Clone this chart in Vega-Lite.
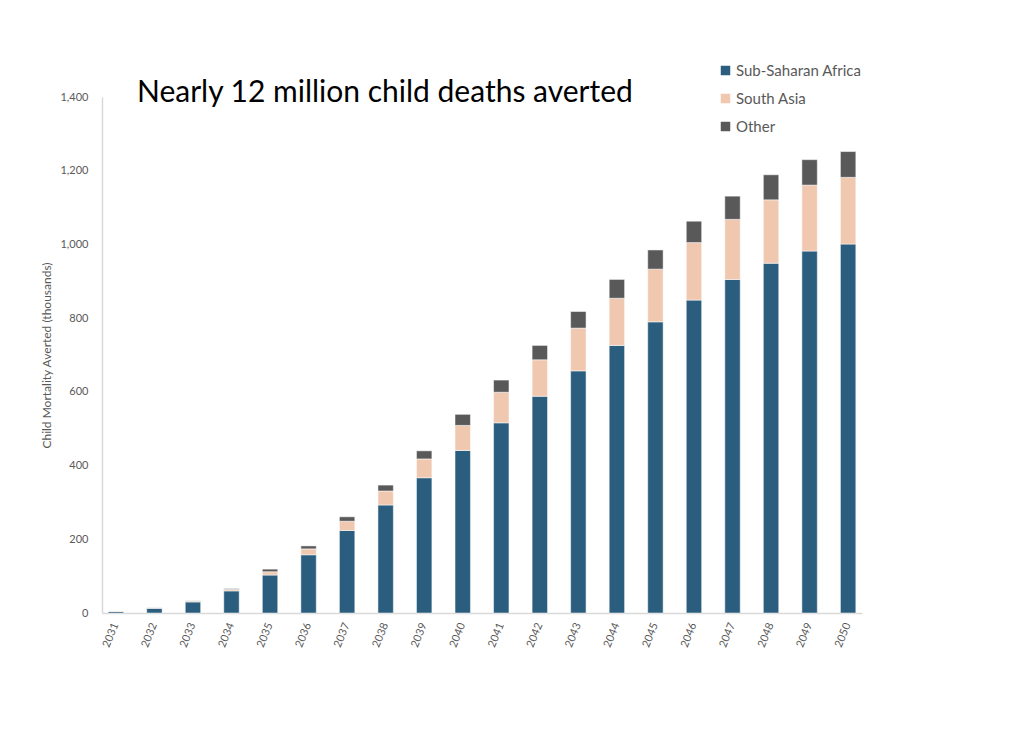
{
  "$schema": "https://vega.github.io/schema/vega-lite/v6.json",
  "autosize": {"type": "none"},
  "width": 760,
  "height": 516,
  "padding": {"left": 102, "top": 97, "right": 162, "bottom": 116},
  "background": "white",
  "config": {
    "view": {"stroke": null},
    "font": "Lato"
  },
  "title": {
    "text": "Nearly 12 million child deaths averted",
    "anchor": "start",
    "frame": "group",
    "orient": "top",
    "dx": 35,
    "dy": 67,
    "offset": -2,
    "baseline": "alphabetic",
    "fontSize": 30,
    "fontWeight": "normal",
    "color": "#000000",
    "font": "Lato"
  },
  "data": {
    "values": [
      {"year": "2031", "region": "Sub-Saharan Africa", "value": 4},
      {"year": "2031", "region": "South Asia", "value": 0.6},
      {"year": "2031", "region": "Other", "value": 0.4},
      {"year": "2032", "region": "Sub-Saharan Africa", "value": 13},
      {"year": "2032", "region": "South Asia", "value": 1},
      {"year": "2032", "region": "Other", "value": 0.5},
      {"year": "2033", "region": "Sub-Saharan Africa", "value": 30},
      {"year": "2033", "region": "South Asia", "value": 2},
      {"year": "2033", "region": "Other", "value": 1},
      {"year": "2034", "region": "Sub-Saharan Africa", "value": 60},
      {"year": "2034", "region": "South Asia", "value": 4},
      {"year": "2034", "region": "Other", "value": 2},
      {"year": "2035", "region": "Sub-Saharan Africa", "value": 103},
      {"year": "2035", "region": "South Asia", "value": 9},
      {"year": "2035", "region": "Other", "value": 7},
      {"year": "2036", "region": "Sub-Saharan Africa", "value": 158},
      {"year": "2036", "region": "South Asia", "value": 16},
      {"year": "2036", "region": "Other", "value": 8},
      {"year": "2037", "region": "Sub-Saharan Africa", "value": 224},
      {"year": "2037", "region": "South Asia", "value": 25},
      {"year": "2037", "region": "Other", "value": 12},
      {"year": "2038", "region": "Sub-Saharan Africa", "value": 293},
      {"year": "2038", "region": "South Asia", "value": 38},
      {"year": "2038", "region": "Other", "value": 16},
      {"year": "2039", "region": "Sub-Saharan Africa", "value": 367},
      {"year": "2039", "region": "South Asia", "value": 51},
      {"year": "2039", "region": "Other", "value": 22},
      {"year": "2040", "region": "Sub-Saharan Africa", "value": 441},
      {"year": "2040", "region": "South Asia", "value": 68},
      {"year": "2040", "region": "Other", "value": 30},
      {"year": "2041", "region": "Sub-Saharan Africa", "value": 516},
      {"year": "2041", "region": "South Asia", "value": 83},
      {"year": "2041", "region": "Other", "value": 33},
      {"year": "2042", "region": "Sub-Saharan Africa", "value": 588},
      {"year": "2042", "region": "South Asia", "value": 99},
      {"year": "2042", "region": "Other", "value": 39},
      {"year": "2043", "region": "Sub-Saharan Africa", "value": 657},
      {"year": "2043", "region": "South Asia", "value": 116},
      {"year": "2043", "region": "Other", "value": 45},
      {"year": "2044", "region": "Sub-Saharan Africa", "value": 726},
      {"year": "2044", "region": "South Asia", "value": 128},
      {"year": "2044", "region": "Other", "value": 51},
      {"year": "2045", "region": "Sub-Saharan Africa", "value": 790},
      {"year": "2045", "region": "South Asia", "value": 143},
      {"year": "2045", "region": "Other", "value": 52},
      {"year": "2046", "region": "Sub-Saharan Africa", "value": 849},
      {"year": "2046", "region": "South Asia", "value": 156},
      {"year": "2046", "region": "Other", "value": 58},
      {"year": "2047", "region": "Sub-Saharan Africa", "value": 905},
      {"year": "2047", "region": "South Asia", "value": 163},
      {"year": "2047", "region": "Other", "value": 63},
      {"year": "2048", "region": "Sub-Saharan Africa", "value": 949},
      {"year": "2048", "region": "South Asia", "value": 172},
      {"year": "2048", "region": "Other", "value": 68},
      {"year": "2049", "region": "Sub-Saharan Africa", "value": 982},
      {"year": "2049", "region": "South Asia", "value": 179},
      {"year": "2049", "region": "Other", "value": 69},
      {"year": "2050", "region": "Sub-Saharan Africa", "value": 1001},
      {"year": "2050", "region": "South Asia", "value": 181},
      {"year": "2050", "region": "Other", "value": 70}
    ]
  },
  "mark": {"type": "bar", "stroke": "white", "strokeWidth": 0.5},
  "encoding": {
    "x": {
      "field": "year",
      "type": "ordinal",
      "title": null,
      "scale": {"paddingInner": 0.6, "paddingOuter": 0.16},
      "axis": {
        "labelAngle": -68,
        "labelFontSize": 11,
        "labelColor": "#595959",
        "labelPadding": 10,
        "ticks": false,
        "domainColor": "#d9d9d9",
        "domainWidth": 1.5
      }
    },
    "y": {
      "field": "value",
      "type": "quantitative",
      "stack": "zero",
      "scale": {"domain": [0, 1400], "nice": false},
      "axis": {
        "title": "Child Mortality Averted (thousands)",
        "titleFontSize": 12,
        "titleFontWeight": "normal",
        "titleColor": "#595959",
        "titlePadding": 6,
        "values": [0, 200, 400, 600, 800, 1000, 1200, 1400],
        "format": ",.0f",
        "labelFontSize": 11,
        "labelColor": "#595959",
        "labelPadding": 14,
        "ticks": false,
        "grid": false,
        "domainColor": "#d9d9d9",
        "domainWidth": 1.5
      }
    },
    "color": {
      "field": "region",
      "type": "nominal",
      "sort": ["Sub-Saharan Africa", "South Asia", "Other"],
      "scale": {
        "domain": ["Sub-Saharan Africa", "South Asia", "Other"],
        "range": ["#2b5e7e", "#f0c8b0", "#595959"]
      },
      "legend": {
        "title": null,
        "orient": "none",
        "legendX": 616,
        "legendY": -34,
        "symbolType": "square",
        "symbolSize": 90,
        "symbolStrokeWidth": 0,
        "labelFontSize": 15,
        "labelColor": "#595959",
        "labelOffset": 3,
        "rowPadding": 12
      }
    },
    "order": {"field": "region", "sort": "descending"}
  }
}
